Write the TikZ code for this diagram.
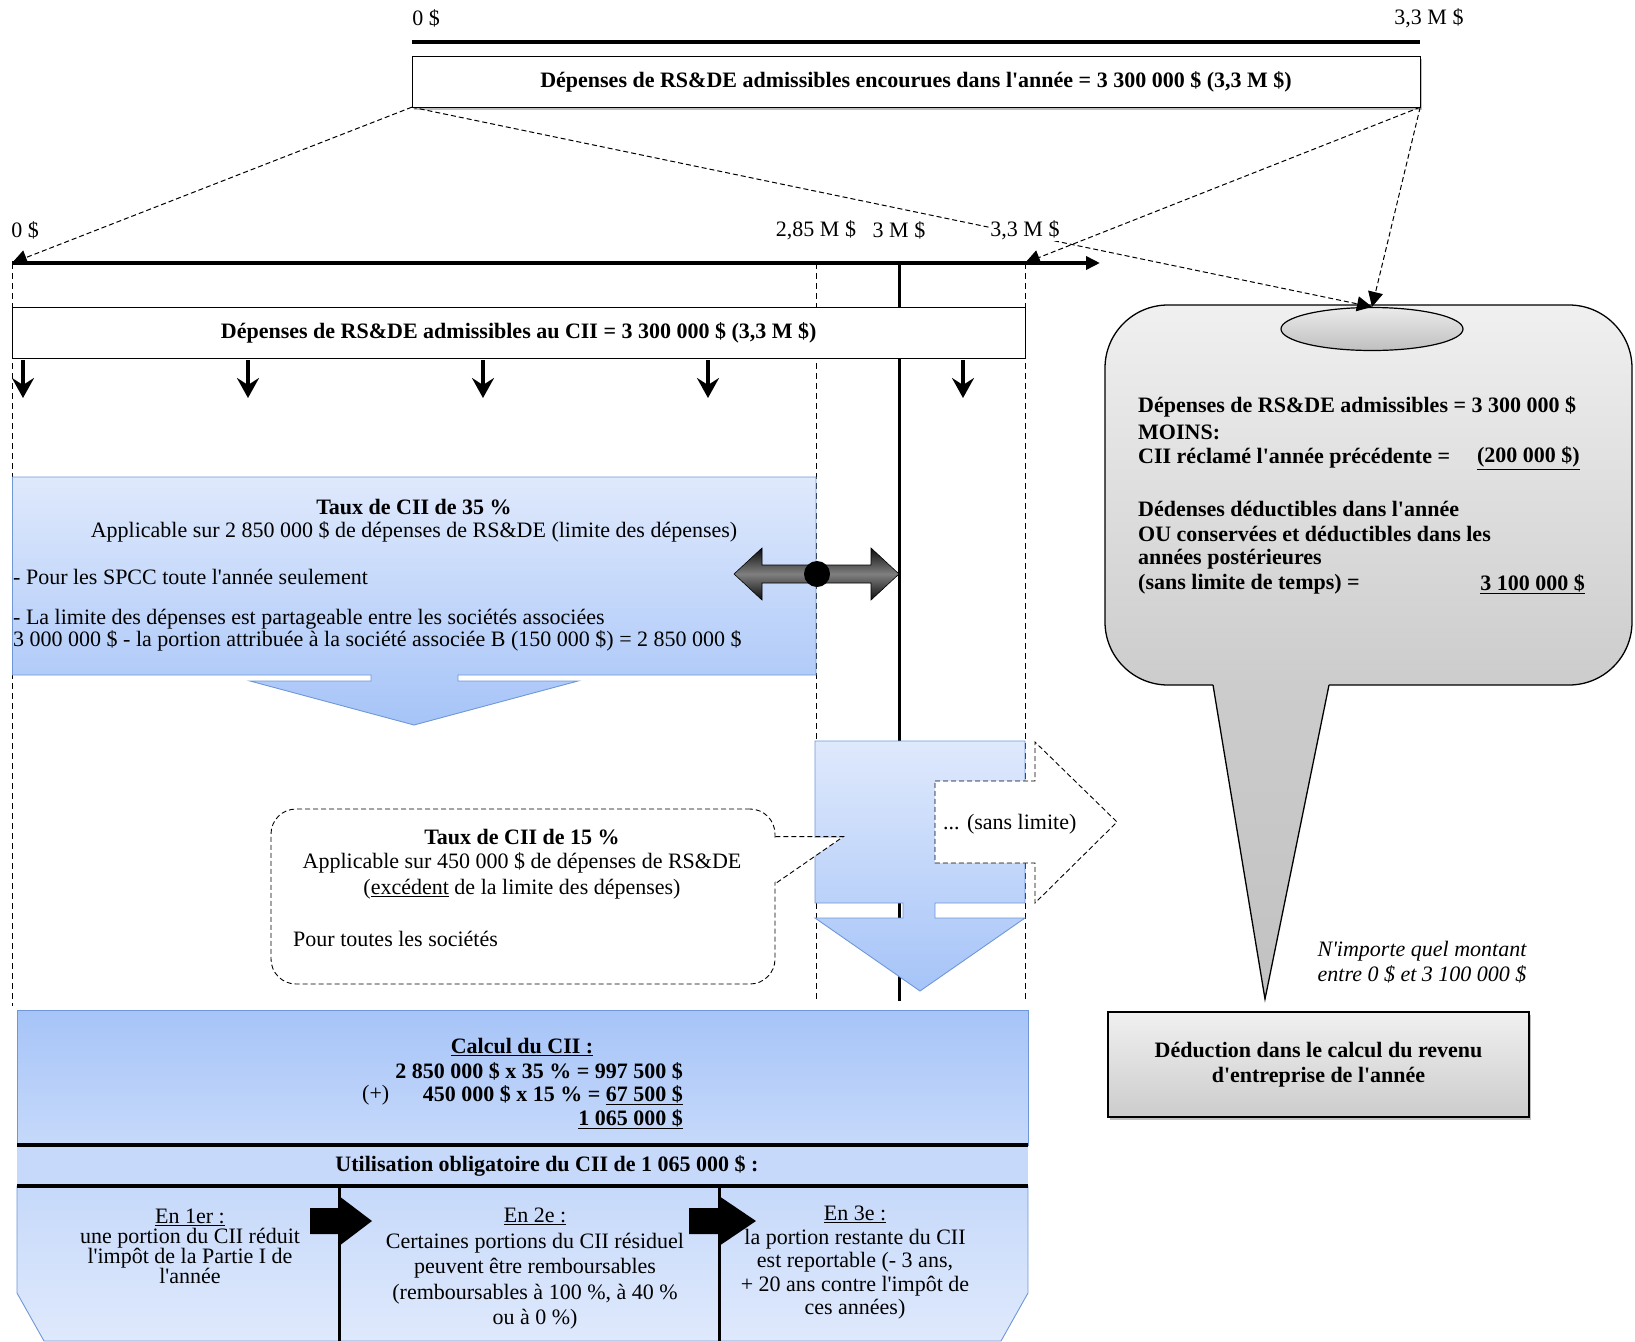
\documentclass[tikz,border=0pt]{standalone}
\usepackage{fontspec}
\setmainfont{Liberation Serif}[Ligatures=TeXOff]
\usepackage{tikz}
\usetikzlibrary{shadows,arrows.meta,positioning,shapes.geometric}
\definecolor{paleblue}{HTML}{DFE9FC}
\definecolor{deepblue}{HTML}{A6C4F8}
\definecolor{bandblue}{HTML}{C6D9FA}
\definecolor{edgeblue}{HTML}{6F97D8}
\definecolor{palegray}{HTML}{F0F0F0}
\definecolor{deepgray}{HTML}{CCCCCC}
\tikzstyle{spendbox} = [draw, fill=white, text centered, inner sep=0pt, font=\bfseries]
\tikzstyle{amount} = [inner sep=1pt]
\tikzstyle{textline} = [inner sep=0pt, anchor=west]
\tikzstyle{figure} = [inner sep=0pt, anchor=east, font=\bfseries]
\tikzstyle{axisline} = [draw, line width=3.5pt]
\tikzstyle{limit} = [draw, line width=0.9pt, dash pattern=on 6pt off 4pt]
\tikzstyle{link} = [draw, line width=1pt, dash pattern=on 5pt off 3pt, -{Triangle[length=15pt,width=15pt]}]
\tikzstyle{downtick} = [draw, line width=3.5pt, -{Stealth[length=20pt,width=22pt,inset=7pt]}]
\tikzstyle{bluearrow} = [draw=edgeblue, line width=0.9pt, top color=paleblue, bottom color=deepblue]
\tikzstyle{memobox} = [draw, line width=1.3pt, top color=palegray, bottom color=deepgray]
\newcommand{\amount}[2]{node (a#1) [amount] {#2}}
\begin{document}
\begin{tikzpicture}[x=1pt,y=-1pt]
\fontsize{22}{25}\selectfont
\path[use as bounding box] (0,0) rectangle (1635,1341);
\clip (0,0) rectangle (1635,1341);

% scale of the year
\path (412,42) coordinate (u0) (1420,42) coordinate (u1);
\path [axisline] (u0) -- (u1);
\path (u0)+(14,-24) \amount{u0}{0 \$};
\path (u1)+(9,-24) \amount{u1}{3,3 M \$};
\path (916,81.5) node (spend) [spendbox, minimum width=1008, minimum height=51,
  drop shadow={shadow xshift=2pt, shadow yshift=-3pt, opacity=0.5}]
  {Dépenses de RS\&DE admissibles encourues dans l'année = 3 300 000 \$ (3,3 M \$)};

% scale of the CII
\path (12,263) coordinate (v0) (816,263) coordinate (v285) (899,263) coordinate (v3)
  (1025,263) coordinate (v33) (1100,263) coordinate (vend);
\path [limit] (v0) -- (12,1006);
\path [limit] (v285) -- (816,1001);
\path [limit] (v33) -- (1025,1001);
\path [draw, line width=3pt] (v3) -- (899,1001);
\path [axisline, -{Triangle[length=14pt,width=13pt]}] (v0) -- (vend);
\path (v0)+(13,-33) \amount{v0}{0 \$};
\path (v285)+(0,-33) \amount{v285}{2,85 M \$};
\path (v3)+(0,-33) \amount{v3}{3 M \$};
\path (518.75,332.5) node (cii) [spendbox, minimum width=1012.5, minimum height=51]
  {Dépenses de RS\&DE admissibles au CII = 3 300 000 \$ (3,3 M \$)};
\foreach \x [count=\i] in {23,248,483,708,963} {
  \path (\x,360) coordinate (d\i);
  \path [downtick] (d\i) -- ++(0,38);
}

% rate 35 %
\path [bluearrow] (12.5,477) -- (816,477) -- (816,675) -- (458,675) -- (458,681) -- (578,681)
  -- (414,725) -- (250,681) -- (371,681) -- (371,675) -- (12.5,675) -- cycle;
\path (414,507) node (r35) [font=\bfseries] {Taux de CII de 35 \%};
\path (r35)+(0,25) node (r35a) {Applicable sur 2 850 000 \$ de dépenses de RS\&DE (limite des dépenses)};
\path (13,577) node (r35b) [textline] {- Pour les SPCC toute l'année seulement};
\path (13,619) node (r35c) [textline] {- La limite des dépenses est partageable entre les sociétés associées};
\path (13,641) node (r35d) [textline] {3 000 000 \$ - la portion attribuée à la société associée B (150 000 \$) = 2 850 000 \$};
\path [draw=black, line width=0.6pt, top color=black!95, bottom color=black!95, middle color=black!50]
  (734,574) -- (762,548) -- (762,565) -- (871,565) -- (871,548) -- (899,574) -- (871,600)
  -- (871,583) -- (762,583) -- (762,600) -- cycle;
\path (817,574) node (pivot) [circle, fill=black, minimum size=26, inner sep=0pt] {};

% rate 15 %
\path [bluearrow] (815,741) -- (1025,741) -- (1025,903) -- (935,903) -- (935,918) -- (1025,918)
  -- (920,991) -- (815,918) -- (903,918) -- (903,903) -- (815,903) -- cycle;
\path [draw, fill=white, line width=0.9pt, dash pattern=on 5pt off 3pt] (935,781) -- (1035,781)
  -- (1035,742) -- (1117,822) -- (1035,903) -- (1035,863) -- (935,863) -- cycle;
\path (943,824) node (nolimit) [textline] {... (sans limite)};
\path (523,896.5) node (r15) [draw, fill=white, line width=0.9pt, dash pattern=on 5pt off 3pt,
  rounded corners=25pt, minimum width=504, minimum height=175] {};
\path (r15.north east) ++(0,28) coordinate (p1) ++(68,0) coordinate (ptip) ++(-68,47) coordinate (p2);
\fill [white] (773,838) -- (842,838) -- (773,883) -- cycle;
\path [draw, line width=0.9pt, dash pattern=on 5pt off 3pt] (p1) -- (ptip) -- (p2);
\path (522,837) node (r15t) [font=\bfseries] {Taux de CII de 15 \%};
\path (r15t)+(0,26) node (r15a) {Applicable sur 450 000 \$ de dépenses de RS\&DE};
\path (r15a)+(0,26) node (r15b) {(\underline{excédent} de la limite des dépenses)};
\path (293,939) node (r15c) [textline] {Pour toutes les sociétés};

% calculation and use of the CII
\path [draw=edgeblue, line width=0.9pt, top color=deepblue, bottom color=bandblue] (17,1010) rectangle (1028,1145);
\path [fill=bandblue] (17,1145) rectangle (1028,1186);
\path [draw=edgeblue, line width=0.9pt, top color=bandblue, bottom color=paleblue] (17,1186) -- (1028,1186)
  -- (1028,1293) -- (1001,1341) -- (44,1341) -- (17,1293) -- cycle;
\path [draw, line width=4pt] (17,1145) -- (1028,1145);
\path [draw, line width=4pt] (17,1186) -- (1028,1186);
\path [draw, line width=3pt] (339,1186) -- (339,1341);
\path [draw, line width=3pt] (719,1186) -- (719,1341);
\foreach \a/\b/\c in {310/339/372, 689/719/756} {
  \fill (\a,1208) -- (\b,1208) -- (\b,1196) -- (\c,1221) -- (\b,1246) -- (\b,1234) -- (\a,1234) -- cycle;
}
\path (522,1047) node (calc) [font=\bfseries] {\underline{Calcul du CII :}};
\path (683,1071) node (calc1) [figure] {2 850 000 \$ x 35 \% = 997 500 \$};
\path (683,1095) node (calc2) [figure] {450 000 \$ x 15 \% = \underline{67 500 \$}};
\path (362,1095) node (plus) [textline] {(+)};
\path (683,1119) node (calc3) [figure] {\underline{1 065 000 \$}};
\path (547,1166) node (usage) [font=\bfseries] {Utilisation obligatoire du CII de 1 065 000 \$ :};
\path (190,1246) node (first) [align=center, font=\fontsize{22}{20}\selectfont]
  {\underline{En 1er :}\\une portion du CII réduit\\l'impôt de la Partie I de\\l'année};
\path (535,1269) node (second) [align=center, font=\fontsize{22}{25.5}\selectfont]
  {\underline{En 2e :}\\Certaines portions du CII résiduel\\peuvent être remboursables\\(remboursables à 100 \%, à 40 \%\\ou à 0 \%)};
\path (855,1263) node (third) [align=center, font=\fontsize{22}{23.5}\selectfont]
  {\underline{En 3e :}\\la portion restante du CII\\est reportable (- 3 ans,\\+ 20 ans contre l'impôt de\\ces années)};

% deduction
\path (1368.5,495) node (memo) [memobox, rounded corners=63pt, minimum width=527, minimum height=380] {};
\path [top color=deepgray, bottom color=black!24] (1213,683.5) -- (1329,683.5) -- (1265,999) -- cycle;
\path [draw, line width=1.3pt] (1213,685) -- (1265,999) -- (1329,685);
\path (1372,329) node (knob) [ellipse, draw, line width=1.2pt, minimum width=182, minimum height=43,
  inner sep=0pt, top color=black!8, bottom color=black!25] {};
\path (1138,407) node (m1) [textline, font=\bfseries] {Dépenses de RS\&DE admissibles = 3 300 000 \$};
\path (1138,432) node (m2) [textline, font=\bfseries] {MOINS:};
\path (1138,458) node (m3) [textline, font=\bfseries] {CII réclamé l'année précédente =};
\path (1580,458) node (m3v) [figure] {\underline{(200 000 \$)}};
\path (1138,509) node (m4) [textline, font=\bfseries] {Dédenses déductibles dans l'année};
\path (1138,534) node (m5) [textline, font=\bfseries] {OU conservées et déductibles dans les};
\path (1138,559) node (m6) [textline, font=\bfseries] {années postérieures};
\path (1138,584) node (m7) [textline, font=\bfseries] {(sans limite de temps) =};
\path (1585,584) node (m7v) [figure] {\underline{3 100 000 \$}};
\path (1422,962) node (anyamt) [align=center, font=\itshape] {N'importe quel montant\\entre 0 \$ et 3 100 000 \$};
\path (1318.5,1064.5) node (deduct) [memobox, minimum width=421, minimum height=105, align=center,
  font=\bfseries, drop shadow={shadow xshift=2pt, shadow yshift=-3pt, opacity=0.5}]
  {Déduction dans le calcul du revenu\\d'entreprise de l'année};

% links from the year to the scales
\path [link] (spend.south west) -- (v0);
\path [link] (spend.south west) -- (knob.north);
\path [link] (spend.south east) -- (v33);
\path [link] (spend.south east) -- (knob.north);
\path (v33)+(0,-33) node (av33) [amount, fill=white] {3,3 M \$};
\end{tikzpicture}
\end{document}
